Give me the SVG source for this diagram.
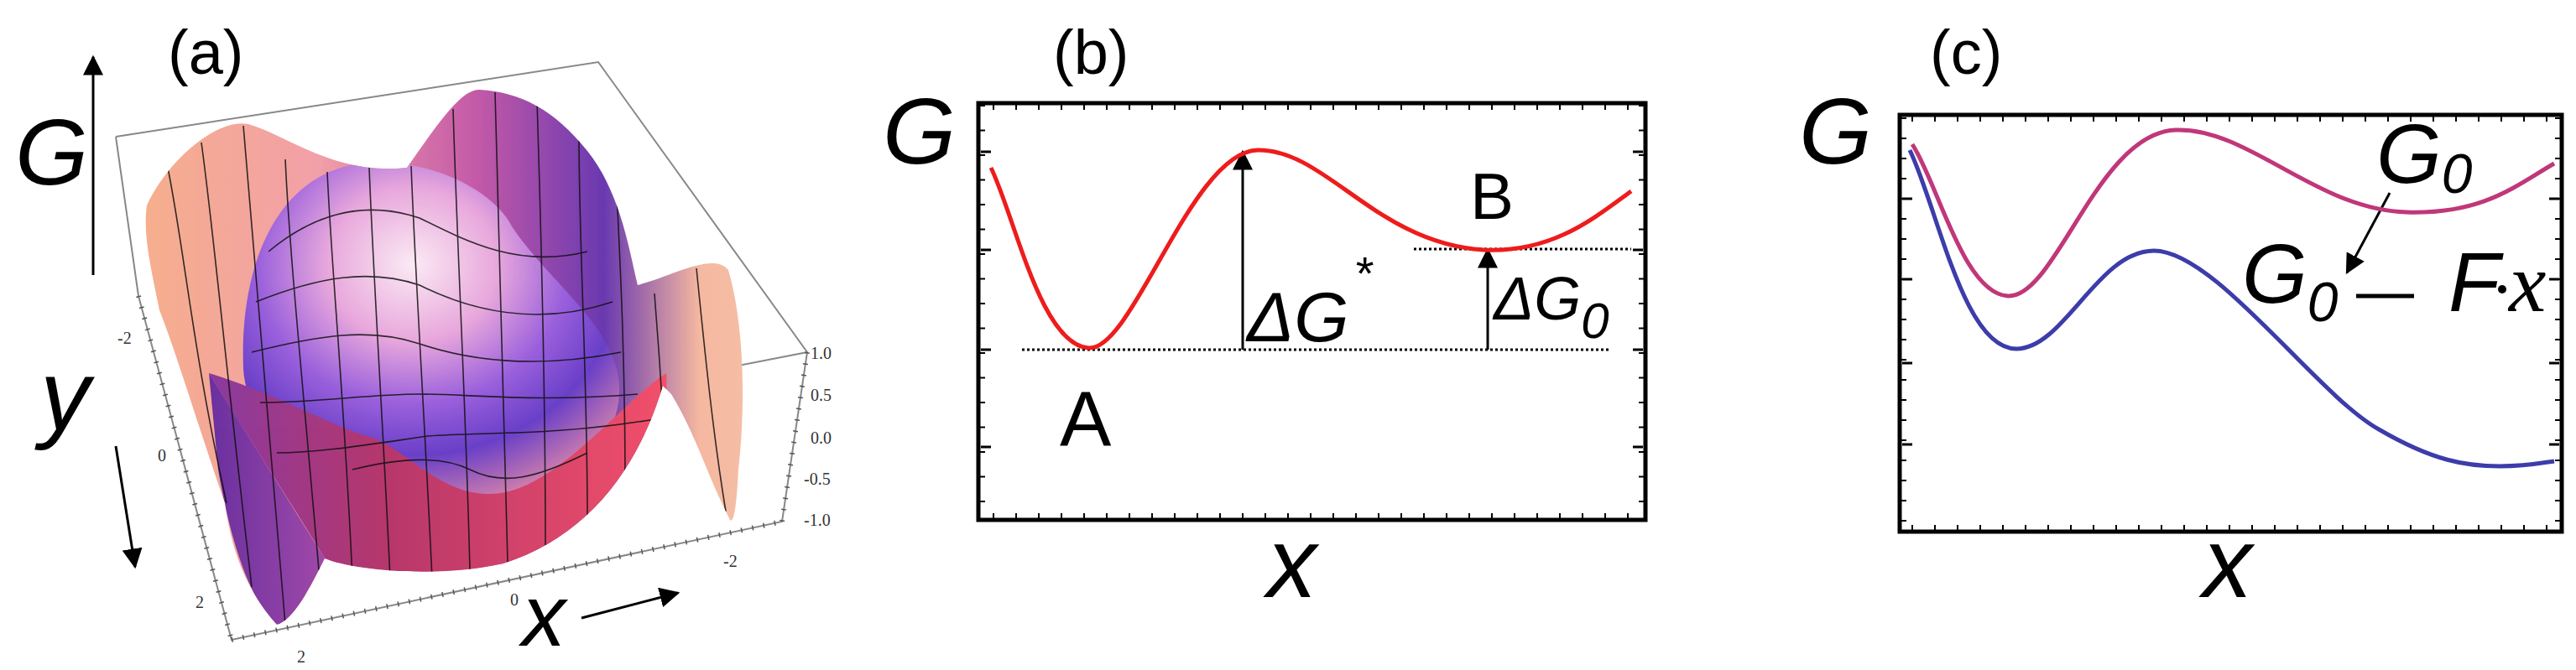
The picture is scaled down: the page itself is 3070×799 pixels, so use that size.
<svg xmlns="http://www.w3.org/2000/svg" width="3070" height="799" viewBox="0 0 3070 799">
<style>
.lbl{font-family:"Liberation Sans",Arial,sans-serif;fill:#000}
.it{font-style:italic}
.ax{fill:none;stroke:#000;stroke-width:5}
.tk{fill:none;stroke:#000;stroke-width:8}
.thin{fill:none;stroke:#888;stroke-width:2}
.grid{fill:none;stroke:#111;stroke-width:1.6;opacity:.85}
.dot{fill:none;stroke:#000;stroke-width:3;stroke-dasharray:3,3}
.arr{fill:none;stroke:#000;stroke-width:3}
.tl{font-family:"Liberation Serif",serif;font-size:20px;fill:#333}
</style>
<defs>
<marker id="ah" viewBox="0 0 10 10" refX="9" refY="5" markerWidth="8" markerHeight="8" orient="auto-start-reverse"><path d="M0,0 L10,5 L0,10 Z" fill="#000"/></marker>
<linearGradient id="gBack" x1="0" y1="0" x2="1" y2="0"><stop offset="0" stop-color="#f6b08a"/><stop offset=".3" stop-color="#f2a0a8"/><stop offset=".55" stop-color="#c45aa8"/><stop offset=".75" stop-color="#6a3ab0"/><stop offset=".9" stop-color="#f5b8a0"/><stop offset="1" stop-color="#f5c0a8"/></linearGradient>
<radialGradient id="gDome" cx=".45" cy=".3" r=".75"><stop offset="0" stop-color="#fbeaf4"/><stop offset=".3" stop-color="#e8a8dc"/><stop offset=".55" stop-color="#9a60dc"/><stop offset=".75" stop-color="#6a40c8"/><stop offset="1" stop-color="#e08aa8"/></radialGradient>
<linearGradient id="gFront" x1="0" y1="0" x2="1" y2="0"><stop offset="0" stop-color="#8a3aa0"/><stop offset=".4" stop-color="#b8386a"/><stop offset="1" stop-color="#f2506a"/></linearGradient>
<linearGradient id="gLeft" x1="0" y1="0" x2="1" y2="0"><stop offset="0" stop-color="#6a30a0"/><stop offset="1" stop-color="#a04aa8"/></linearGradient>
<clipPath id="cBlob"><path d="M175,245 C200,190 260,140 296,148 C340,160 400,210 485,200 C520,150 550,105 572,107 C620,110 660,130 700,180 C740,230 750,300 760,340 C800,330 850,300 868,322 C885,380 890,470 880,560 C878,600 875,625 870,620 C840,560 830,520 800,470 L790,460 C760,560 700,640 600,672 C520,690 420,680 387,666 C370,700 350,740 330,745 C290,700 275,650 268,600 C240,520 210,420 190,370 C180,320 170,280 175,245 Z"/></clipPath>
</defs>

<g id="panel-a">
<g id="box-a">
<path class="thin" d="M138,163 L713,74 L962,420 L932,622 L276,763 L165,353 L138,163 M256,558 L962,420"/>
<path d="M276,763 L932,622 M165,353 L276,763 M962,420 L932,622" fill="none" stroke="#555" stroke-width="6" stroke-dasharray="1.5,12"/>
</g>
<g id="surface" clip-path="url(#cBlob)">
<rect x="150" y="90" width="760" height="680" fill="url(#gBack)"/>
<path d="M290,440 C285,300 340,200 440,194 C520,190 590,230 610,270 C650,330 720,380 735,440 C750,500 710,560 640,585 C560,605 440,605 370,570 C320,530 292,480 290,440 Z" fill="url(#gDome)"/>
<path d="M249,445 C330,470 400,510 437,520 C480,530 520,590 585,589 C660,588 740,480 794,445 C800,520 740,640 600,672 C520,690 420,680 387,666 C360,620 320,560 249,445 Z" fill="url(#gFront)"/>
<path d="M249,445 L387,666 C370,700 350,740 330,745 C300,720 275,650 260,560 Z" fill="url(#gLeft)"/>
<g class="grid">
<path d="M200,200 C220,300 230,420 270,600"/><path d="M240,170 C255,280 265,400 300,700"/>
<path d="M290,150 C300,260 310,400 340,745"/><path d="M340,190 C345,300 360,450 380,680"/>
<path d="M390,205 C395,320 410,470 420,690"/><path d="M440,200 C445,330 455,480 465,690"/>
<path d="M490,198 C495,330 505,480 515,690"/><path d="M540,130 C545,300 555,480 560,680"/>
<path d="M590,110 C595,280 600,460 605,670"/><path d="M640,120 C645,280 650,460 650,650"/>
<path d="M690,160 C690,300 700,440 700,620"/><path d="M735,230 C740,330 745,440 745,580"/>
<path d="M780,350 C785,420 790,470 790,520"/><path d="M830,320 C840,420 850,520 865,610"/>
<path d="M320,300 C380,250 440,240 500,260 C560,290 620,320 700,300"/>
<path d="M305,360 C380,330 440,320 500,340 C560,370 640,390 730,360"/>
<path d="M300,420 C380,400 440,390 500,410 C560,430 640,440 740,420"/>
<path d="M310,480 C380,480 440,470 500,470 C560,470 640,480 760,470"/>
<path d="M330,540 C380,540 440,530 510,520 C580,515 660,520 780,500"/>
<path d="M420,560 C460,550 520,540 560,560 C600,580 640,570 700,540"/>
</g>
</g>
<text class="tl" x="140" y="410">-2</text><text class="tl" x="188" y="550">0</text><text class="tl" x="233" y="725">2</text>
<text class="tl" x="354" y="790">2</text><text class="tl" x="608" y="722">0</text><text class="tl" x="862" y="676">-2</text>
<text class="tl" x="966" y="428">1.0</text><text class="tl" x="966" y="478">0.5</text><text class="tl" x="966" y="529">0.0</text><text class="tl" x="958" y="578">-0.5</text><text class="tl" x="958" y="627">-1.0</text>
<text class="lbl" x="200" y="88" font-size="74">(a)</text>
<text class="lbl it" x="18" y="220" font-size="112">G</text>
<text class="lbl it" x="48" y="512" font-size="118">y</text>
<text class="lbl it" x="622" y="770" font-size="104">x</text>
</g>

<g id="connectors">
<line class="arr" x1="111" y1="328" x2="111" y2="68" marker-end="url(#ah)"/>
<line class="arr" x1="138" y1="532" x2="161" y2="676" marker-end="url(#ah)"/>
<line class="arr" x1="693" y1="737" x2="808" y2="707" marker-end="url(#ah)"/>
<line class="arr" x1="1481" y1="417" x2="1481" y2="181" marker-end="url(#ah)"/>
<line class="arr" x1="1773" y1="417" x2="1773" y2="298" marker-end="url(#ah)"/>
<line class="arr" x1="2848" y1="230" x2="2797" y2="325" marker-end="url(#ah)"/>
</g>

<g id="panel-b">
<rect class="ax" x="1166" y="123" width="795" height="497"/>
<line class="tk" x1="1166" y1="616" x2="1961" y2="616" stroke-dasharray="2,25" stroke-dashoffset="-17"/>
<line class="tk" x1="1166" y1="127" x2="1961" y2="127" stroke-dasharray="2,25" stroke-dashoffset="-17"/>
<line class="tk" x1="1170" y1="123" x2="1170" y2="620" stroke-dasharray="2,27.5" stroke-dashoffset="-2"/>
<line class="tk" x1="1957" y1="123" x2="1957" y2="620" stroke-dasharray="2,27.5" stroke-dashoffset="-2"/>
<path d="M1169,181h12M1169,298h12M1169,417h12M1169,533h12M1958,181h-12M1958,298h-12M1958,417h-12M1958,533h-12" stroke="#000" stroke-width="3"/>
<line class="dot" x1="1218" y1="417" x2="1919" y2="417"/>
<line class="dot" x1="1685" y1="297" x2="1944" y2="297"/>
<path d="M1181,200 C1210,260 1240,410 1297,415 C1350,420 1420,180 1499,179 C1580,178 1640,290 1768,298 C1850,302 1900,260 1944,228" fill="none" stroke="#ee1c1c" stroke-width="5"/>
<text class="lbl" x="1255" y="88" font-size="74">(b)</text>
<text class="lbl it" x="1052" y="195" font-size="112">G</text>
<text class="lbl" x="1263" y="532" font-size="92">A</text>
<text class="lbl" x="1752" y="261" font-size="78">B</text>
<text class="lbl it" x="1486" y="407" font-size="84">ΔG<tspan dx="8" dy="-62" font-size="56" font-style="normal">*</tspan></text>
<text class="lbl it" x="1780" y="381" font-size="72">ΔG<tspan dy="22" font-size="60">0</tspan></text>
<text class="lbl it" x="1510" y="712" font-size="118">x</text>
</g>

<g id="panel-c">
<rect class="ax" x="2264" y="137" width="789" height="497"/>
<line class="tk" x1="2264" y1="630" x2="3053" y2="630" stroke-dasharray="2,25" stroke-dashoffset="-14"/>
<line class="tk" x1="2264" y1="141" x2="3053" y2="141" stroke-dasharray="2,25" stroke-dashoffset="-14"/>
<line class="tk" x1="2268" y1="137" x2="2268" y2="634" stroke-dasharray="2,22" stroke-dashoffset="-3"/>
<line class="tk" x1="3049" y1="137" x2="3049" y2="634" stroke-dasharray="2,22" stroke-dashoffset="-3"/>
<path d="M2267,237h12M2267,333h12M2267,433h12M2267,530h12M3050,237h-12M3050,333h-12M3050,433h-12M3050,530h-12" stroke="#000" stroke-width="3"/>
<path d="M2279,172 C2310,220 2340,350 2393,353 C2450,356 2500,158 2593,155 C2680,152 2760,250 2868,253 C2960,256 3000,220 3044,195" fill="none" stroke="#c0377a" stroke-width="5"/>
<path d="M2276,179 C2310,250 2340,416 2403,416 C2460,416 2500,299 2567,299 C2640,299 2760,470 2835,512 C2900,550 2940,556 2979,556 C3010,556 3030,552 3044,550" fill="none" stroke="#3c3caa" stroke-width="5"/>
<text class="lbl" x="2300" y="88" font-size="74">(c)</text>
<text class="lbl it" x="2144" y="195" font-size="112">G</text>
<text class="lbl it" x="2832" y="218" font-size="100">G<tspan dy="12" font-size="66">0</tspan></text>
<text class="lbl it" x="2672" y="361" font-size="100">G<tspan dy="22" font-size="66">0</tspan></text>
<line x1="2808" y1="353" x2="2877" y2="353" stroke="#000" stroke-width="5"/>
<text class="lbl it" x="2918" y="371" font-size="100">F</text>
<circle cx="2982" cy="345" r="5" fill="#000"/>
<text x="2990" y="371" font-family="Liberation Serif,serif" font-style="italic" font-size="100" fill="#000">x</text>
<text class="lbl it" x="2625" y="712" font-size="118">x</text>
</g>
</svg>
